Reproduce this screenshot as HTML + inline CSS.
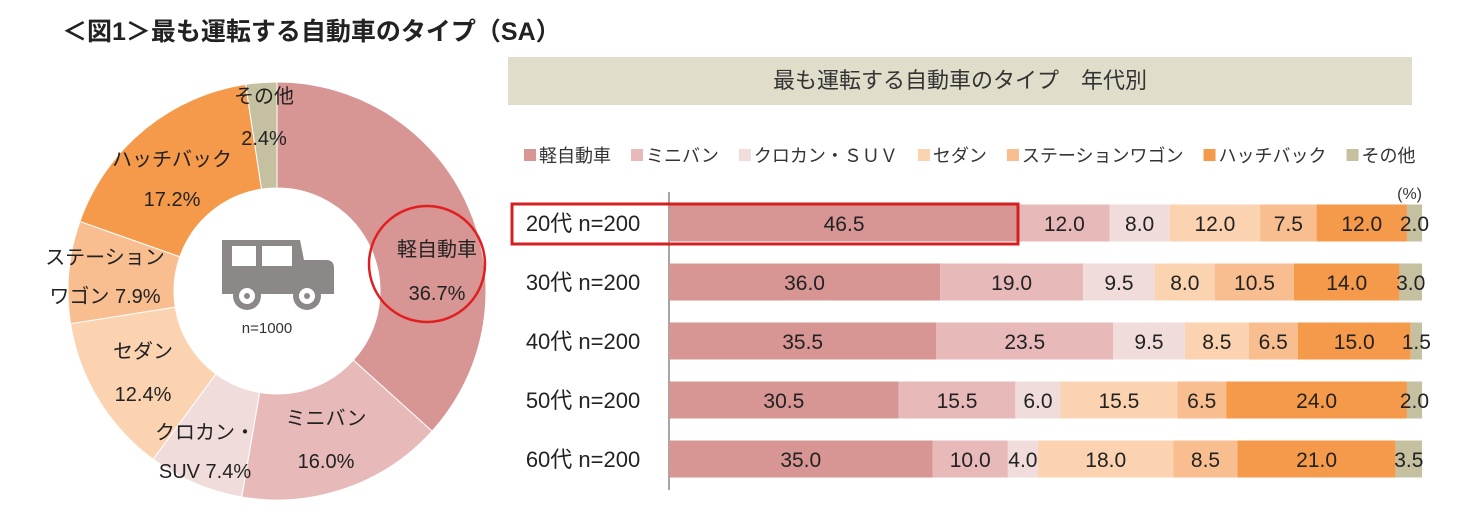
<!DOCTYPE html>
<html><head><meta charset="utf-8">
<style>
body{margin:0;width:1465px;height:518px;background:#fff;overflow:hidden;font-family:"Liberation Sans","Noto Sans CJK JP",sans-serif;}
svg text{font-family:"Liberation Sans","Noto Sans CJK JP",sans-serif;}
</style></head>
<body>
<svg id="chart" width="1465" height="518" viewBox="0 0 1465 518">
<text x="62" y="40" font-size="25" font-weight="bold" fill="#222">＜図1＞最も運転する自動車のタイプ（SA）</text>
<g id="donut"></g>
<g fill="#8c8888">
<path d="M222 240 h78 l4 20 h22 q8 0 8 8 v26 h-112 z"/>
<rect x="232" y="246" width="24" height="20" fill="#fff"/><rect x="262" y="246" width="30" height="20" fill="#fff"/>
<circle cx="247" cy="296" r="14"/><circle cx="247" cy="296" r="8" fill="#fff"/><circle cx="247" cy="296" r="3"/>
<circle cx="307" cy="296" r="14"/><circle cx="307" cy="296" r="8" fill="#fff"/><circle cx="307" cy="296" r="3"/>
</g>
<text x="267" y="333" font-size="15" text-anchor="middle" fill="#333">n=1000</text>
<circle cx="427" cy="264" r="58" fill="none" stroke="#e02020" stroke-width="2.5"/>
<rect x="508" y="57" width="904" height="48" fill="#e0ddcb"/>
<text x="960" y="88" font-size="22" text-anchor="middle" fill="#333">最も運転する自動車のタイプ　年代別</text>
<g id="legend"></g>
<text x="1422" y="199" font-size="16" text-anchor="end" fill="#333">(%)</text>
<line x1="669" y1="192" x2="669" y2="490" stroke="#888" stroke-width="1.5"/>
<g id="bars"></g>
<rect x="512" y="204" width="506" height="40" fill="none" stroke="#d42020" stroke-width="3"/>
</svg>
<script>
const ns="http://www.w3.org/2000/svg";
const series=["軽自動車","ミニバン","クロカン・ＳＵＶ","セダン","ステーションワゴン","ハッチバック","その他"];
const colors=["#d79594","#e8b9b9","#f1dcdc","#fbd3b0","#f8be90","#f59a4a","#c4c0a0"];
const donutValues=[36.7,16.0,7.4,12.4,7.9,17.2,2.4];
const categories=["20代 n=200","30代 n=200","40代 n=200","50代 n=200","60代 n=200"];
const kei=[46.5,36.0,35.5,30.5,35.0];
const minivan=[12.0,19.0,23.5,15.5,10.0];
const suv=[8.0,9.5,9.5,6.0,4.0];
const sedan=[12.0,8.0,8.5,15.5,18.0];
const wagon=[7.5,10.5,6.5,6.5,8.5];
const hatch=[12.0,14.0,15.0,24.0,21.0];
const other=[2.0,3.0,1.5,2.0,3.5];
const barSeries=[kei,minivan,suv,sedan,wagon,hatch,other];

function mk(tag,attrs,parent){const e=document.createElementNS(ns,tag);for(const k in attrs)e.setAttribute(k,attrs[k]);parent.appendChild(e);return e;}

// donut
const cx=277,cy=291,R=209,r=103;
const dg=document.getElementById('donut');
const total=donutValues.reduce((a,b)=>a+b,0);
let acc=0;
function pt(rad,a){return [cx+rad*Math.sin(a),cy-rad*Math.cos(a)];}
const labelPos=[[437,256,300],[326,425,468],[205,439,478],[143,358,401],[105,264,303],[172,166,206],[264,103,145]];
const labelText=[["軽自動車","36.7%"],["ミニバン","16.0%"],["クロカン・","SUV  7.4%"],["セダン","12.4%"],["ステーション","ワゴン 7.9%"],["ハッチバック","17.2%"],["その他","2.4%"]];
donutValues.forEach((v,i)=>{
  const a0=acc/total*2*Math.PI; acc+=v; const a1=acc/total*2*Math.PI;
  const lg=(a1-a0)>Math.PI?1:0;
  const p0=pt(R,a0),p1=pt(R,a1),q1=pt(r,a1),q0=pt(r,a0);
  const p=mk('path',{d:`M${p0[0]} ${p0[1]} A${R} ${R} 0 ${lg} 1 ${p1[0]} ${p1[1]} L${q1[0]} ${q1[1]} A${r} ${r} 0 ${lg} 0 ${q0[0]} ${q0[1]} Z`,fill:colors[i],stroke:'#fff','stroke-width':1},dg);
  
  
});
donutValues.forEach((v,i)=>{
  const lp=labelPos[i];
  const t1=mk('text',{x:lp[0],y:lp[1],'font-size':20,'text-anchor':'middle',fill:'#222'},dg);t1.textContent=labelText[i][0];
  
  
  const t2=mk('text',{x:lp[0],y:lp[2],'font-size':20,'text-anchor':'middle',fill:'#222'},dg);t2.textContent=labelText[i][1];
  
  
});

// legend
const lg=document.getElementById('legend');
let lx=524;
series.forEach((s,i)=>{
  const sw=mk('rect',{x:lx,y:149,width:12,height:12,fill:colors[i]},lg);
  
  
  const t=mk('text',{x:lx+15,y:162,'font-size':18,fill:'#333'},lg);t.textContent=s;
  
  
  lx+=15+t.getComputedTextLength()+20;
});

// bars
const x0=669,scale=7.53,rowY0=223,rowStep=59,bh=37;
const xs=v=>v*scale, ys=i=>rowY0+i*rowStep;
const bg=document.getElementById('bars');
categories.forEach((c,i)=>{
  const t=mk('text',{x:583,y:ys(i)+8,'font-size':22,'text-anchor':'middle',fill:'#222'},bg);t.textContent=c;
  
  
  let cum=0;
  barSeries.forEach((arr,j)=>{
    const v=arr[i];
    const rc=mk('rect',{x:x0+xs(cum),y:ys(i)-bh/2,width:xs(v),height:bh,fill:colors[j]},bg);
    
    
    const tv=mk('text',{x:x0+xs(cum+v/2),y:ys(i)+8,'font-size':21,'text-anchor':'middle',fill:'#222'},bg);tv.textContent=v.toFixed(1);
    
    
    cum+=v;
  });
});
</script>
</body></html>
